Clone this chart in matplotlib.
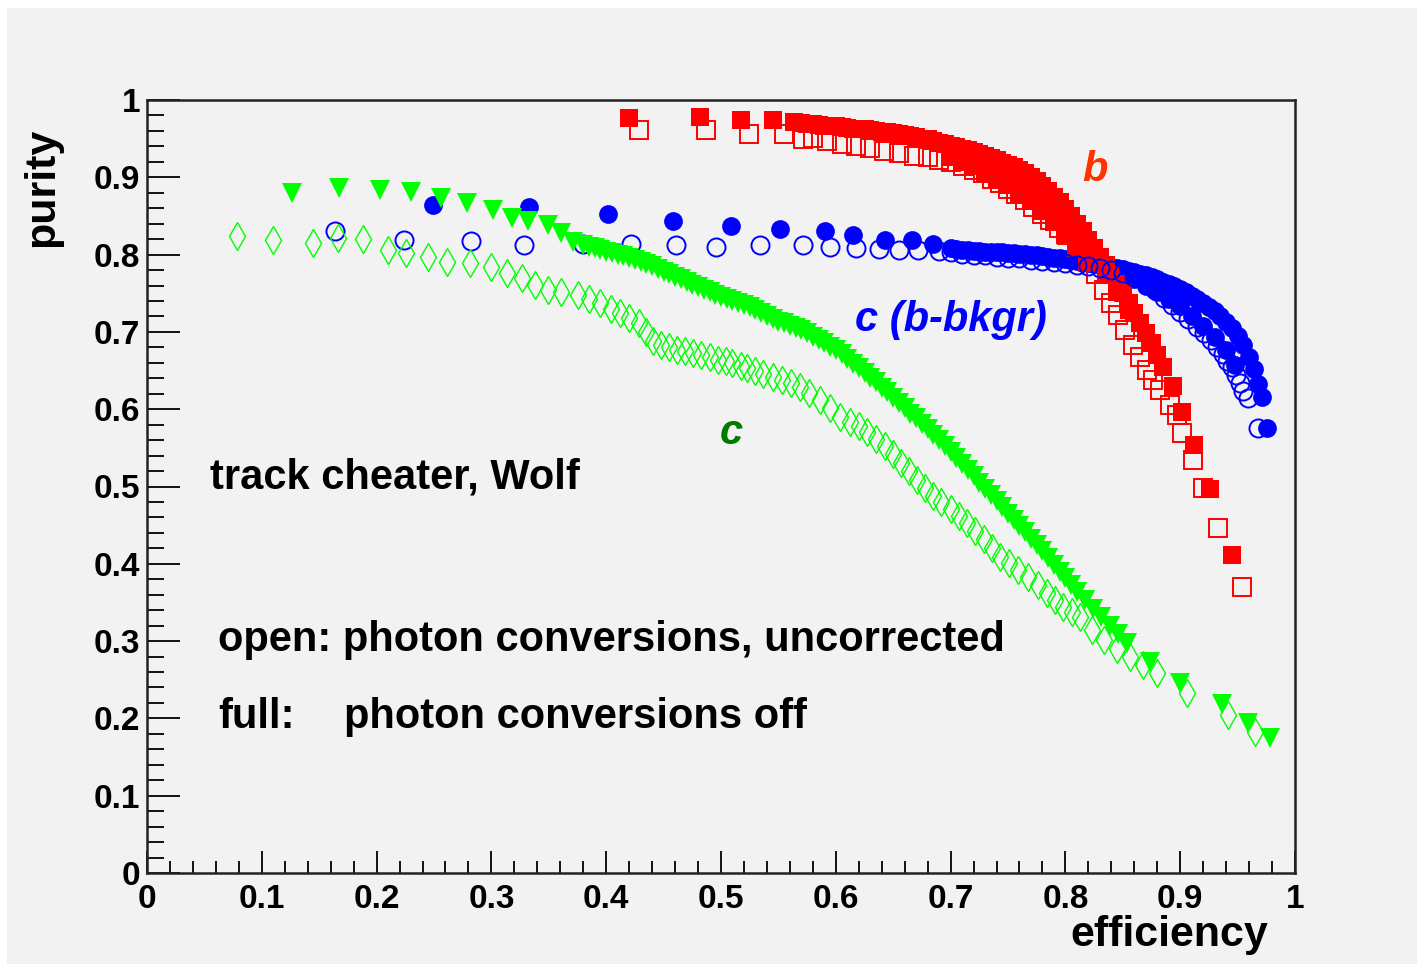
import matplotlib.pyplot as plt
from matplotlib.patches import Rectangle
from matplotlib.ticker import MultipleLocator

plt.rcParams['font.family'] = ['Liberation Sans', 'DejaVu Sans']
plt.rcParams['font.weight'] = 'bold'

# b, photon conversions off (full squares), upper edge of the band
b_full_x = [0.420, 0.482, 0.517, 0.545, 0.564,
            0.570, 0.575, 0.580, 0.585, 0.590, 0.595, 0.600, 0.605, 0.610, 0.615,
            0.620, 0.625, 0.630, 0.635, 0.640, 0.645, 0.650, 0.655, 0.660, 0.665,
            0.670, 0.675, 0.680, 0.685, 0.690, 0.695, 0.700, 0.705, 0.710, 0.715,
            0.720, 0.725, 0.730, 0.735, 0.740, 0.745, 0.750, 0.755, 0.760, 0.765,
            0.770, 0.775, 0.780, 0.785, 0.790, 0.795, 0.800, 0.805, 0.810, 0.815,
            0.820, 0.825, 0.830, 0.835, 0.840, 0.845, 0.850, 0.855, 0.860, 0.865,
            0.870, 0.875, 0.880, 0.885, 0.894, 0.902, 0.912, 0.926, 0.945]
b_full_y = [0.977, 0.978, 0.974, 0.974, 0.972,
            0.970, 0.969, 0.969, 0.968, 0.967, 0.966, 0.966, 0.965, 0.964, 0.963,
            0.963, 0.962, 0.961, 0.960, 0.959, 0.958, 0.957, 0.956, 0.955, 0.953,
            0.952, 0.950, 0.949, 0.947, 0.945, 0.943, 0.941, 0.939, 0.937, 0.935,
            0.933, 0.930, 0.928, 0.925, 0.922, 0.919, 0.916, 0.913, 0.909, 0.905,
            0.900, 0.895, 0.889, 0.882, 0.875, 0.868, 0.859, 0.850, 0.840, 0.830,
            0.819, 0.808, 0.797, 0.786, 0.774, 0.762, 0.750, 0.738, 0.725, 0.712,
            0.699, 0.685, 0.670, 0.655, 0.630, 0.596, 0.554, 0.497, 0.411]
# full squares inside and at the lower side of the thick band
b_full2_x = [0.700, 0.710, 0.720, 0.730, 0.740, 0.750, 0.760, 0.770, 0.780, 0.790,
             0.800, 0.810, 0.820,
             0.705, 0.715, 0.725, 0.735, 0.745, 0.755, 0.765, 0.775, 0.785, 0.795,
             0.805, 0.815, 0.825, 0.835, 0.845, 0.855]
b_full2_y = [0.926, 0.920, 0.914, 0.906, 0.898, 0.890, 0.880, 0.869, 0.856, 0.842,
             0.826, 0.808, 0.790,
             0.931, 0.925, 0.919, 0.913, 0.906, 0.898, 0.889, 0.879, 0.866, 0.851,
             0.834, 0.816, 0.797, 0.775, 0.752, 0.728]

# b, photon conversions uncorrected (open squares)
b_open_x = [0.429, 0.487, 0.524, 0.555, 0.571, 0.580, 0.592, 0.605, 0.618, 0.630,
            0.642, 0.655, 0.668, 0.680, 0.690, 0.700, 0.711, 0.720, 0.728, 0.736,
            0.743, 0.750, 0.757, 0.765, 0.772, 0.780, 0.787, 0.794, 0.801, 0.810,
            0.820, 0.827, 0.834, 0.840, 0.846, 0.852, 0.859, 0.865, 0.871, 0.876,
            0.882, 0.891, 0.897, 0.902, 0.911, 0.920, 0.933, 0.954]
b_open_y = [0.961, 0.961, 0.956, 0.956, 0.950, 0.951, 0.947, 0.943, 0.940, 0.938,
            0.934, 0.931, 0.928, 0.926, 0.923, 0.920, 0.915, 0.910, 0.905, 0.898,
            0.892, 0.885, 0.878, 0.870, 0.862, 0.853, 0.845, 0.835, 0.826, 0.810,
            0.790, 0.775, 0.754, 0.738, 0.722, 0.703, 0.683, 0.667, 0.651, 0.638,
            0.625, 0.605, 0.592, 0.569, 0.534, 0.498, 0.446, 0.370]

# c (b-bkgr), full circles
cb_full_x = [0.249, 0.333, 0.402, 0.458, 0.509, 0.551, 0.591, 0.615, 0.643, 0.666,
             0.685, 0.700, 0.705, 0.710, 0.715, 0.720, 0.725, 0.730, 0.735, 0.740,
             0.745, 0.750, 0.755, 0.760, 0.765, 0.770, 0.775, 0.780, 0.785, 0.790,
             0.795, 0.800, 0.805, 0.810, 0.815, 0.820, 0.825, 0.830, 0.835, 0.840,
             0.845, 0.850, 0.855, 0.860, 0.865, 0.870, 0.875, 0.880, 0.885, 0.890,
             0.895, 0.900, 0.905, 0.910, 0.915, 0.920, 0.925, 0.930, 0.935, 0.940,
             0.945, 0.950, 0.955, 0.960, 0.964, 0.968, 0.971, 0.976]
cb_full_y = [0.864, 0.862, 0.853, 0.843, 0.837, 0.833, 0.831, 0.825, 0.819, 0.819,
             0.814, 0.808, 0.807, 0.806, 0.806, 0.805, 0.805, 0.804, 0.804, 0.803,
             0.803, 0.802, 0.802, 0.801, 0.801, 0.800, 0.799, 0.798, 0.797, 0.796,
             0.795, 0.794, 0.793, 0.792, 0.791, 0.789, 0.788, 0.787, 0.786, 0.784,
             0.783, 0.781, 0.779, 0.777, 0.775, 0.773, 0.771, 0.768, 0.765, 0.762,
             0.759, 0.755, 0.751, 0.747, 0.742, 0.737, 0.732, 0.727, 0.720, 0.713,
             0.705, 0.695, 0.683, 0.668, 0.652, 0.632, 0.616, 0.576]
# full circles at the lower side of the band
cb_full2_x = [0.850, 0.860, 0.870, 0.880, 0.890, 0.900, 0.910, 0.920, 0.930, 0.940,
              0.948]
cb_full2_y = [0.774, 0.768, 0.760, 0.752, 0.742, 0.733, 0.721, 0.708, 0.694, 0.676,
              0.657]

# c (b-bkgr), open circles
cb_open_x = [0.164, 0.224, 0.282, 0.328, 0.380, 0.422, 0.461, 0.496, 0.534, 0.571,
             0.595, 0.618, 0.638, 0.655, 0.672, 0.690, 0.700, 0.710, 0.720, 0.730,
             0.740, 0.750, 0.760, 0.770, 0.780, 0.790, 0.800, 0.810, 0.820, 0.830,
             0.840, 0.850, 0.860, 0.870, 0.878, 0.886, 0.893, 0.900, 0.907, 0.915,
             0.921, 0.927, 0.932, 0.937, 0.941, 0.945, 0.949, 0.952, 0.955, 0.959,
             0.968]
cb_open_y = [0.831, 0.819, 0.818, 0.812, 0.814, 0.814, 0.812, 0.810, 0.812, 0.812,
             0.810, 0.809, 0.807, 0.806, 0.806, 0.805, 0.803, 0.801, 0.800, 0.799,
             0.797, 0.796, 0.795, 0.793, 0.792, 0.790, 0.789, 0.787, 0.785, 0.783,
             0.780, 0.776, 0.771, 0.763, 0.754, 0.744, 0.735, 0.726, 0.717, 0.706,
             0.698, 0.689, 0.680, 0.671, 0.663, 0.654, 0.644, 0.634, 0.623, 0.614,
             0.576]

# c, full triangles
c_full_x = [0.126, 0.167, 0.203, 0.230, 0.256, 0.279, 0.301, 0.318, 0.332, 0.349,
            0.361, 0.371,
            0.380, 0.385, 0.390, 0.395, 0.400, 0.405, 0.410, 0.415, 0.420, 0.425,
            0.430, 0.435, 0.440, 0.445, 0.450, 0.455, 0.460, 0.465, 0.470, 0.475,
            0.480, 0.485, 0.490, 0.495, 0.500, 0.505, 0.510, 0.515, 0.520, 0.525,
            0.530, 0.535, 0.540, 0.545, 0.550, 0.555, 0.560, 0.565, 0.570, 0.575,
            0.580, 0.585, 0.590, 0.595, 0.600, 0.605, 0.610, 0.615, 0.620, 0.625,
            0.630, 0.635, 0.640, 0.645, 0.650, 0.655, 0.660, 0.665, 0.670, 0.675,
            0.680, 0.685, 0.690, 0.695, 0.700, 0.705, 0.710, 0.715, 0.720, 0.725,
            0.730, 0.735, 0.740, 0.745, 0.750, 0.755, 0.760, 0.765, 0.770, 0.775,
            0.780, 0.785, 0.790, 0.795, 0.800, 0.805, 0.810, 0.817, 0.824, 0.831,
            0.839, 0.846, 0.854, 0.874, 0.900, 0.936, 0.959, 0.978]
c_full_y = [0.880, 0.886, 0.884, 0.881, 0.873, 0.867, 0.858, 0.847, 0.843, 0.838,
            0.828, 0.816,
            0.812, 0.810, 0.808, 0.806, 0.804, 0.802, 0.800, 0.798, 0.795, 0.793,
            0.790, 0.788, 0.785, 0.782, 0.778, 0.775, 0.771, 0.768, 0.764, 0.761,
            0.758, 0.754, 0.751, 0.748, 0.745, 0.743, 0.740, 0.738, 0.735, 0.732,
            0.728, 0.724, 0.720, 0.717, 0.713, 0.711, 0.708, 0.705, 0.702, 0.698,
            0.694, 0.690, 0.686, 0.681, 0.676, 0.671, 0.665, 0.659, 0.653, 0.647,
            0.641, 0.635, 0.628, 0.622, 0.615, 0.608, 0.601, 0.594, 0.588, 0.581,
            0.574, 0.567, 0.560, 0.552, 0.545, 0.537, 0.529, 0.521, 0.513, 0.505,
            0.497, 0.489, 0.481, 0.473, 0.465, 0.457, 0.449, 0.441, 0.432, 0.424,
            0.416, 0.407, 0.399, 0.390, 0.382, 0.373, 0.364, 0.353, 0.342, 0.331,
            0.320, 0.309, 0.298, 0.273, 0.246, 0.218, 0.194, 0.175]

# c, open diamonds
c_open_x = [0.078, 0.110, 0.145, 0.166, 0.188, 0.210, 0.226, 0.245, 0.261, 0.281,
            0.300, 0.314, 0.327, 0.338, 0.349, 0.361, 0.375, 0.385, 0.395, 0.404,
            0.412, 0.420, 0.429, 0.435, 0.441, 0.448, 0.455, 0.462, 0.469, 0.476,
            0.483, 0.490, 0.497, 0.504, 0.510, 0.517, 0.523, 0.530, 0.537, 0.545,
            0.553, 0.561, 0.569, 0.577, 0.586, 0.595, 0.604, 0.612, 0.620, 0.627,
            0.635, 0.643, 0.650, 0.657, 0.664, 0.671, 0.678, 0.685, 0.692, 0.700,
            0.707, 0.714, 0.721, 0.729, 0.736, 0.743, 0.751, 0.759, 0.767, 0.776,
            0.784, 0.791, 0.798, 0.806, 0.813, 0.823, 0.834, 0.845, 0.856, 0.868,
            0.880, 0.906, 0.942, 0.965]
c_open_y = [0.824, 0.819, 0.815, 0.821, 0.820, 0.806, 0.802, 0.797, 0.790, 0.789,
            0.784, 0.776, 0.770, 0.761, 0.754, 0.752, 0.748, 0.743, 0.737, 0.730,
            0.724, 0.718, 0.712, 0.700, 0.688, 0.683, 0.680, 0.677, 0.675, 0.673,
            0.670, 0.667, 0.664, 0.662, 0.660, 0.656, 0.653, 0.650, 0.646, 0.642,
            0.638, 0.634, 0.629, 0.621, 0.612, 0.601, 0.590, 0.584, 0.578, 0.571,
            0.562, 0.552, 0.542, 0.531, 0.520, 0.509, 0.498, 0.488, 0.480, 0.471,
            0.462, 0.453, 0.443, 0.432, 0.420, 0.409, 0.401, 0.392, 0.383, 0.372,
            0.362, 0.353, 0.344, 0.337, 0.331, 0.314, 0.301, 0.290, 0.279, 0.269,
            0.259, 0.233, 0.204, 0.182]

x_ticks = [0, 0.1, 0.2, 0.3, 0.4, 0.5, 0.6, 0.7, 0.8, 0.9, 1]
y_ticks = [0, 0.1, 0.2, 0.3, 0.4, 0.5, 0.6, 0.7, 0.8, 0.9, 1]

bg = '#f2f2f2'
fig = plt.figure(figsize=(14.17, 9.64), dpi=100, facecolor='white')
fig.patches.append(Rectangle((7 / 1417, 0), 1, 956 / 964, transform=fig.transFigure,
                             facecolor=bg, edgecolor='none', zorder=-10))
ax = fig.add_axes([147 / 1417, 91 / 964, 1148 / 1417, 773 / 964])
ax.set_facecolor(bg)

ax.plot(cb_full_x, cb_full_y, 'o', color='#0000ff', ms=13.5, mew=0, zorder=3)
ax.plot(cb_full2_x, cb_full2_y, 'o', color='#0000ff', ms=13.5, mew=0, zorder=3)
ax.plot(b_full_x, b_full_y, 's', color='#ff0000', ms=13, mew=0, zorder=4)
ax.plot(b_full2_x, b_full2_y, 's', color='#ff0000', ms=13, mew=0, zorder=4)
ax.plot(b_open_x, b_open_y, 's', mfc='none', mec='#ff0000', ms=12.5, mew=1.4, zorder=5)
ax.plot(cb_open_x, cb_open_y, 'o', mfc='none', mec='#0000ff', ms=13, mew=1.4, zorder=5)
ax.plot(c_full_x, c_full_y, 'v', color='#00ff00', ms=15, mew=0, zorder=6)
ax.plot(c_open_x, c_open_y, 'd', mfc='none', mec='#00ff00', ms=14, mew=1.0, zorder=7)

ax.set_xlim(0, 1)
ax.set_ylim(0, 1)
ax.set_xticks(x_ticks)
ax.set_yticks(y_ticks)
ax.set_xticklabels([f'{v:g}' for v in x_ticks])
ax.set_yticklabels([f'{v:g}' for v in y_ticks])
ax.xaxis.set_minor_locator(MultipleLocator(0.02))
ax.yaxis.set_minor_locator(MultipleLocator(0.02))
ax.tick_params(which='both', direction='in', width=1.4, color='#111111',
               labelsize=24, top=False, right=False)
ax.tick_params(axis='x', which='major', length=16, pad=8)
ax.tick_params(axis='x', which='minor', length=8.5)
ax.tick_params(axis='y', which='major', length=24, pad=5)
ax.tick_params(axis='y', which='minor', length=12)
for lab in ax.get_xticklabels() + ax.get_yticklabels():
    lab.set_fontweight('bold')
for s in ax.spines.values():
    s.set_linewidth(1.8)
    s.set_color('#222222')

fig.text(42 / 1417, 1 - 128 / 964, 'purity', rotation=90, ha='center', va='top',
         fontsize=31, fontweight='bold')
fig.text(1268 / 1417, 1 - 935 / 964, 'efficiency', ha='right', va='center',
         fontsize=31, fontweight='bold')

ax.text(0.055, 0.511, 'track cheater, Wolf', fontsize=30, fontweight='bold', va='center')
ax.text(0.062, 0.301, 'open: photon conversions, uncorrected', fontsize=30,
        fontweight='bold', va='center')
ax.text(0.062, 0.202, 'full:', fontsize=30, fontweight='bold', va='center')
ax.text(0.172, 0.202, 'photon conversions off', fontsize=30, fontweight='bold', va='center')
ax.text(0.826, 0.909, 'b', color='#ff3300', fontsize=30, fontweight='bold',
        style='italic', ha='center', va='center')
ax.text(0.617, 0.715, 'c (b-bkgr)', color='#0000ff', fontsize=30, fontweight='bold',
        style='italic', va='center')
ax.text(0.509, 0.569, 'c', color='#007a00', fontsize=30, fontweight='bold',
        style='italic', ha='center', va='center')

fig.savefig('out.png', dpi=100, facecolor=fig.get_facecolor())
